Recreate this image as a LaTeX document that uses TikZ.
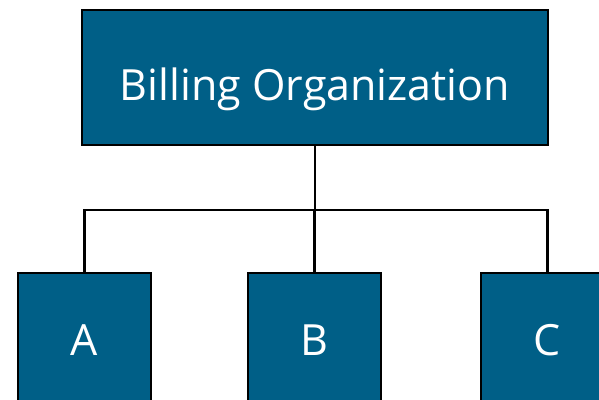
\documentclass[tikz,border=0pt]{standalone}
\usepackage{fontspec}
\setmainfont{Open Sans}
\definecolor{boxblue}{RGB}{0,95,135}
\begin{document}
\begin{tikzpicture}[x=1pt,y=-1pt,
  orgbox/.style={draw=black,line width=1.3pt,fill=boxblue,text=white,inner sep=0pt,
    font=\fontsize{43}{50}\selectfont},
  link/.style={draw=black,line width=2.3pt}]
\useasboundingbox (0,0) rectangle (599,399);
\clip (0,0) rectangle (599,399);
\node[orgbox,minimum width=466pt,minimum height=135pt,text depth=0pt] (top) at (315,77.5) {\raisebox{-0.32em}{Billing Organization}};
\node[orgbox,minimum width=133pt,minimum height=135pt] (A) at (84.5,340.5) {A};
\node[orgbox,minimum width=133pt,minimum height=135pt] (B) at (314.5,340.5) {B};
\node[orgbox,minimum width=133pt,minimum height=135pt] (C) at (547.5,340.5) {C};
\coordinate (bus) at (0,210);
\draw[link] (top.south) -- (top.south |- bus);
\draw[link] (A.north) -- (A.north |- bus) -- (C.north |- bus) -- (C.north);
\draw[link] (B.north) -- (B.north |- bus);
\end{tikzpicture}
\end{document}
